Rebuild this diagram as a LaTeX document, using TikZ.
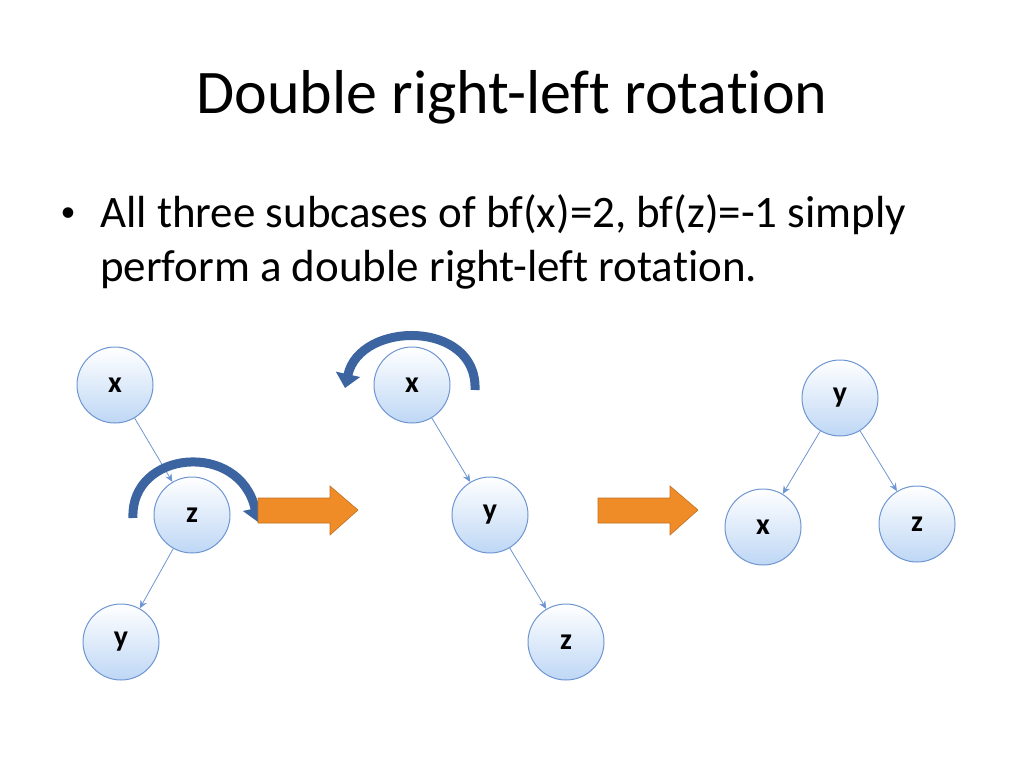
\documentclass[tikz,border=0pt]{standalone}
\usepackage{fontspec}
\setmainfont[Ligatures=NoCommon]{Carlito}
\usetikzlibrary{arrows.meta}
\definecolor{nodeblue}{RGB}{190,215,245}
\definecolor{edgeblue}{RGB}{110,150,210}
\definecolor{rotblue}{RGB}{60,100,160}
\definecolor{orangearr}{RGB}{240,140,40}
\tikzset{
  treenode/.style={circle,minimum size=76pt,inner sep=0pt,draw=edgeblue,line width=1pt,
    top color=white,bottom color=nodeblue,font=\fontsize{30}{30}\selectfont\bfseries},
  link/.style={draw=edgeblue,line width=0.8pt,-{Stealth[length=8pt,width=7pt]}},
  bigstep/.style={fill=orangearr,draw=orangearr!80!black,line width=0.6pt},
  turn/.style={draw=rotblue,line width=9pt,-{Triangle[length=14pt,width=24pt]}}
}
\newcommand\stepshape[1]{%
  \draw[bigstep,shift={(#1,0)}] (0,498) -- (72,498) -- (72,486) -- (100,510)
    -- (72,535) -- (72,523) -- (0,523) -- cycle;}
\begin{document}
\begin{tikzpicture}[x=1pt,y=-1pt,>=latex]
  \useasboundingbox (0,0) rectangle (1024,768);
  \node[font=\fontsize{62}{70}\selectfont] (title) at (512,97) {Double right-left rotation};
  \node[font=\fontsize{30}{30}\selectfont] (dot) at (68,215) {•};
  \node[anchor=west,align=left,font=\fontsize{45}{54}\selectfont,inner sep=0pt] (text) at (100,242)
    {All three subcases of bf(x)=2, bf(z)=-1 simply\\perform a double right-left rotation.};
  % first tree
  \node[treenode] (xa) at (115,385) {x};
  \node[treenode] (za) at (192,515) {z};
  \node[treenode] (ya) at (121,642) {y};
  \draw[link] (xa) -- (za);
  \draw[link] (za) -- (ya);
  \draw[turn] (133,518) .. controls (130,450) and (240,440) .. (258,522);
  % second tree
  \node[treenode] (xb) at (412,385) {x};
  \node[treenode] (yb) at (490,515) {y};
  \node[treenode] (zb) at (566,642) {z};
  \draw[link] (xb) -- (yb);
  \draw[link] (yb) -- (zb);
  \draw[turn] (475,390) .. controls (478,320) and (360,320) .. (345,388);
  % third tree
  \node[treenode] (yc) at (840,398) {y};
  \node[treenode] (xc) at (763,527) {x};
  \node[treenode] (zc) at (917,524) {z};
  \draw[link] (yc) -- (xc);
  \draw[link] (yc) -- (zc);
  % steps
  \stepshape{258}
  \stepshape{598}
\end{tikzpicture}
\end{document}
